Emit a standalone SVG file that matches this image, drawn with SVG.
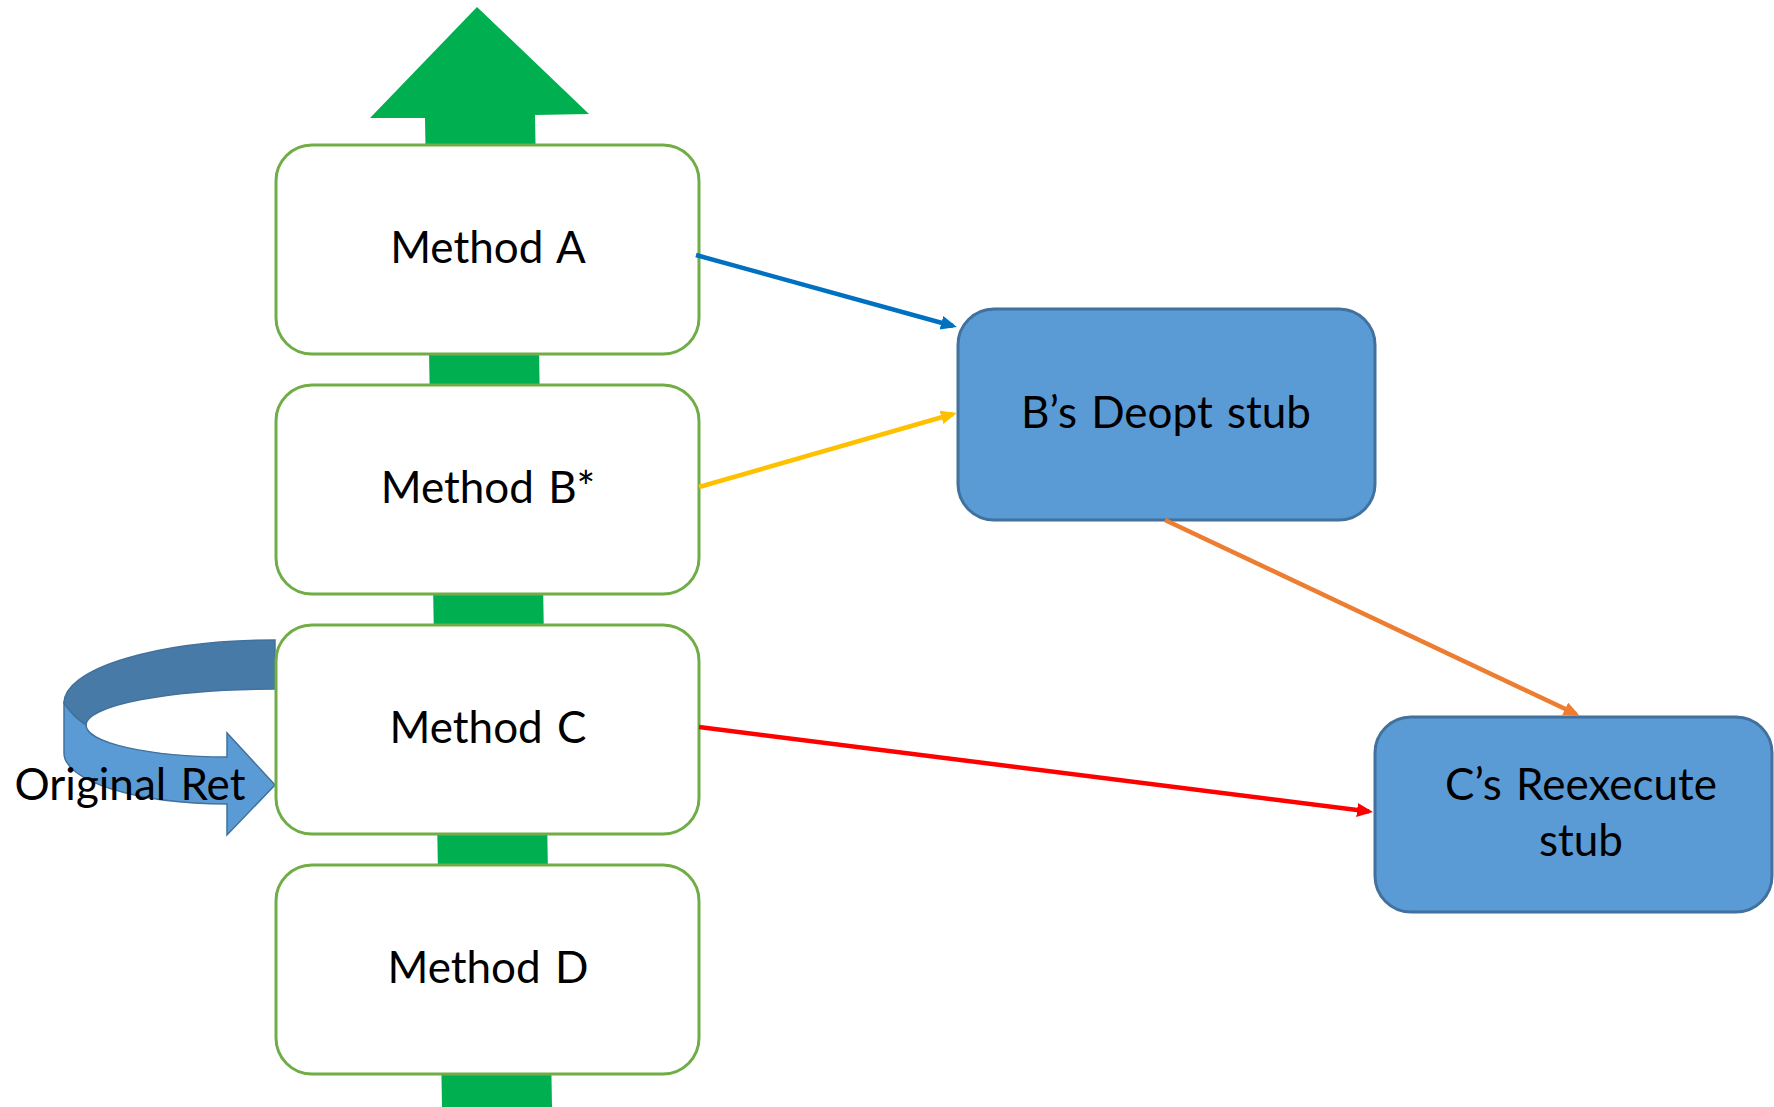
<svg xmlns="http://www.w3.org/2000/svg" width="1774" height="1107" viewBox="0 0 1774 1107">
  <defs>
    <style>
      .method rect { fill: #FFFFFF; stroke: #70AD47; stroke-width: 3; }
      .stub rect { fill: #5B9BD5; stroke: #41719C; stroke-width: 3; }
      text { font-family: Lato, "Open Sans", "Liberation Sans", sans-serif; font-size: 44px; fill: #000000; text-anchor: middle; word-spacing: 3px; }
      .conn { fill: none; stroke-width: 4.5; }
    </style>
    <marker id="ah-blue" markerUnits="userSpaceOnUse" markerWidth="18" markerHeight="16" refX="12" refY="7" orient="auto"><path d="M0,0 L16,7 L0,14 Z" fill="#0070C0"/></marker>
    <marker id="ah-yellow" markerUnits="userSpaceOnUse" markerWidth="18" markerHeight="16" refX="12" refY="7" orient="auto"><path d="M0,0 L16,7 L0,14 Z" fill="#FFC000"/></marker>
    <marker id="ah-orange" markerUnits="userSpaceOnUse" markerWidth="18" markerHeight="16" refX="12" refY="7" orient="auto"><path d="M0,0 L16,7 L0,14 Z" fill="#ED7D31"/></marker>
    <marker id="ah-red" markerUnits="userSpaceOnUse" markerWidth="18" markerHeight="16" refX="12" refY="7" orient="auto"><path d="M0,0 L16,7 L0,14 Z" fill="#FF0000"/></marker>
  </defs>
  <rect width="1774" height="1107" fill="#FFFFFF"/>

  <g id="stack-arrow">
    <polygon points="477,7 589,114 535,115 552,1107 442,1107 425,118 370,118" fill="#00B050"/>
  </g>

  <g id="original-ret">
    <path d="M275,640 A211,63 0 0 0 64,703 C70,712 78,720 86,725 A189,36 0 0 1 275,689 Z" fill="#487AA8" stroke="#41719C" stroke-width="1.5"/>
    <path d="M64,703 L64,753 A163,51 0 0 0 227,804 L227,835 L275,785 L227,733 L227,757 A141,32 0 0 1 86,725 C78,720 70,712 64,703 Z" fill="#5B9BD5" stroke="#41719C" stroke-width="1.5"/>
    <text x="130" y="800">Original Ret</text>
  </g>

  <g id="method-a" class="method">
    <rect x="276" y="145" width="423" height="209" rx="36" ry="36"/>
    <text x="488" y="263">Method A</text>
  </g>
  <g id="method-b" class="method">
    <rect x="276" y="385" width="423" height="209" rx="36" ry="36"/>
    <text x="488" y="503">Method B*</text>
  </g>
  <g id="method-c" class="method">
    <rect x="276" y="625" width="423" height="209" rx="36" ry="36"/>
    <text x="488" y="743">Method C</text>
  </g>
  <g id="method-d" class="method">
    <rect x="276" y="865" width="423" height="209" rx="36" ry="36"/>
    <text x="488" y="983">Method D</text>
  </g>

  <g id="b-deopt-stub" class="stub">
    <rect x="958" y="309" width="417" height="211" rx="36" ry="36"/>
    <text x="1166" y="428">B’s Deopt stub</text>
  </g>
  <g id="c-reexecute-stub" class="stub">
    <rect x="1375" y="717" width="397" height="195" rx="36" ry="36"/>
    <text x="1581" y="800">C’s Reexecute</text>
    <text x="1581" y="856">stub</text>
  </g>

  <g id="connectors">
    <line class="conn" x1="696" y1="255" x2="953" y2="326" stroke="#0070C0" marker-end="url(#ah-blue)"/>
    <line class="conn" x1="699" y1="487" x2="953" y2="414" stroke="#FFC000" marker-end="url(#ah-yellow)"/>
    <line class="conn" x1="1165" y1="520" x2="1576" y2="714" stroke="#ED7D31" marker-end="url(#ah-orange)"/>
    <line class="conn" x1="699" y1="727" x2="1369" y2="811.5" stroke="#FF0000" marker-end="url(#ah-red)"/>
  </g>
</svg>
